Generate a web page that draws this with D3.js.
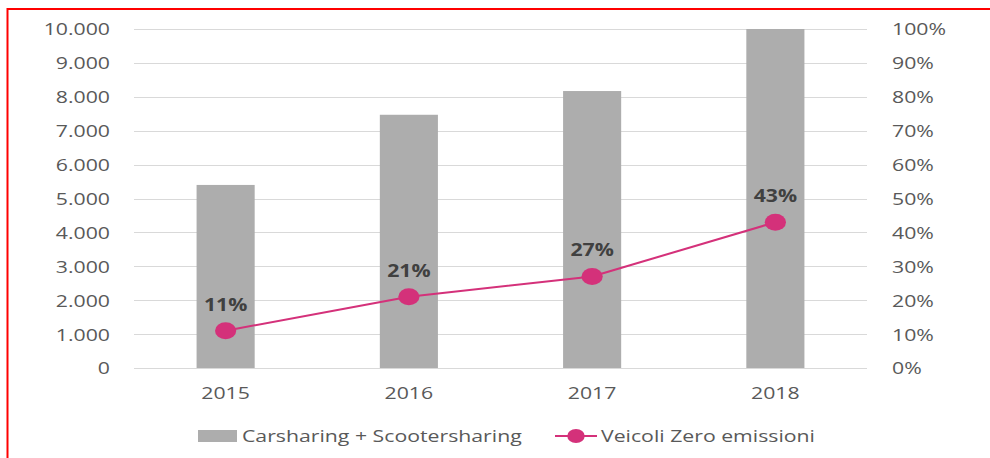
<!DOCTYPE html>
<html>
<head>
<meta charset="utf-8">
<script src="https://cdn.jsdelivr.net/npm/d3@7"></script>
<style>
  html, body { margin: 0; padding: 0; background: #fff; }
  svg { display: block; }
  text { font-family: "Open Sans", sans-serif; }
</style>
</head>
<body>
<svg id="chart" width="990" height="458"></svg>
<script>
// Data
const years = ["2015", "2016", "2017", "2018"];
const sharingFleet = [5400, 7470, 8170, 10000];   // Carsharing + Scootersharing
const zeroEmissionShare = [0.11, 0.21, 0.27, 0.43]; // Veicoli Zero emissioni
const leftTicks = [0, 1000, 2000, 3000, 4000, 5000, 6000, 7000, 8000, 9000, 10000];
const rightTicks = [0, 0.1, 0.2, 0.3, 0.4, 0.5, 0.6, 0.7, 0.8, 0.9, 1.0];
const seriesNames = ["Carsharing + Scootersharing", "Veicoli Zero emissioni"];

const svg = d3.select("#chart");
const SX = 1.25; // horizontal stretch of the whole drawing
const BAR = "#adadad", LINE = "#d4317a", GRID = "#d9d9d9", TICK = "#595959";

// frame lines (top and left)
svg.append("line").attr("x1", 7.5).attr("x2", 990).attr("y1", 9).attr("y2", 9)
  .attr("stroke", "#ff0000").attr("stroke-width", 2);
svg.append("line").attr("x1", 7.5).attr("x2", 7.5).attr("y1", 8).attr("y2", 458)
  .attr("stroke", "#ff0000").attr("stroke-width", 2);

const g = svg.append("g").attr("transform", `scale(${SX},1)`);

const x0 = 134 / SX, x1 = 867 / SX;
const yTop = 29, yBot = 368;

const x = d3.scaleBand().domain(years).range([x0, x1]).paddingInner(0.683).paddingOuter(0.3415);
const yL = d3.scaleLinear().domain([0, 10000]).range([yBot, yTop]);
const yR = d3.scaleLinear().domain([0, 1]).range([yBot, yTop]);

const fmtL = d => d3.format(",")(d).replace(/,/g, ".");
const fmtR = d3.format(".0%");

// gridlines
g.append("g").selectAll("line").data(leftTicks).join("line")
  .attr("x1", x0).attr("x2", x1)
  .attr("y1", d => Math.round(yL(d)) + 0.5).attr("y2", d => Math.round(yL(d)) + 0.5)
  .attr("stroke", GRID).attr("stroke-width", 1);

// left axis
const axL = g.append("g").attr("transform", `translate(${110 / SX},0)`)
  .call(d3.axisLeft(yL).tickValues(leftTicks).tickFormat(fmtL).tickSize(0).tickPadding(0));
axL.select(".domain").remove();
axL.selectAll("text").attr("fill", TICK).style("font-size", "17px").attr("dy", "0.35em");

// right axis
const axR = g.append("g").attr("transform", `translate(${892 / SX},0)`)
  .call(d3.axisRight(yR).tickValues(rightTicks).tickFormat(fmtR).tickSize(0).tickPadding(0));
axR.select(".domain").remove();
axR.selectAll("text").attr("fill", TICK).style("font-size", "17px").attr("dy", "0.35em");

// bars
g.append("g").selectAll("rect").data(years).join("rect")
  .attr("x", d => x(d)).attr("width", x.bandwidth())
  .attr("y", (d, i) => yL(sharingFleet[i]))
  .attr("height", (d, i) => yL(0) - yL(sharingFleet[i]))
  .attr("fill", BAR);

// x axis labels
const axX = g.append("g").attr("transform", `translate(0,${yBot})`)
  .call(d3.axisBottom(x).tickSize(0).tickPadding(0));
axX.select(".domain").remove();
axX.selectAll("text").attr("fill", TICK).style("font-size", "17px").attr("dy", null).attr("y", 31);

// line series
const cx = d => x(d) + x.bandwidth() / 2;
const line = d3.line().x((d, i) => cx(years[i])).y(d => yR(d));
g.append("path").datum(zeroEmissionShare).attr("d", line)
  .attr("fill", "none").attr("stroke", LINE).attr("stroke-width", 2);
g.append("g").selectAll("circle").data(zeroEmissionShare).join("circle")
  .attr("cx", (d, i) => cx(years[i])).attr("cy", d => yR(d)).attr("r", 8.5)
  .attr("fill", LINE);

// value labels
g.append("g").selectAll("text").data(zeroEmissionShare).join("text")
  .attr("x", (d, i) => cx(years[i])).attr("y", d => yR(d) - 20)
  .attr("text-anchor", "middle").attr("fill", "#404040")
  .style("font-size", "17px").style("font-weight", "bold")
  .text(d => fmtR(d));

// legend
const lg = g.append("g");
lg.append("rect").attr("x", 198 / SX).attr("y", 430).attr("width", 39 / SX).attr("height", 12)
  .attr("fill", BAR);
lg.append("text").attr("x", 242 / SX).attr("y", 442).attr("fill", TICK)
  .style("font-size", "17px").text(seriesNames[0]);
lg.append("line").attr("x1", 555 / SX).attr("x2", 597 / SX).attr("y1", 436).attr("y2", 436)
  .attr("stroke", LINE).attr("stroke-width", 2);
lg.append("circle").attr("cx", 576 / SX).attr("cy", 436).attr("r", 7).attr("fill", LINE);
lg.append("text").attr("x", 601 / SX).attr("y", 442).attr("fill", TICK)
  .style("font-size", "17px").text(seriesNames[1]);
</script>
</body>
</html>
